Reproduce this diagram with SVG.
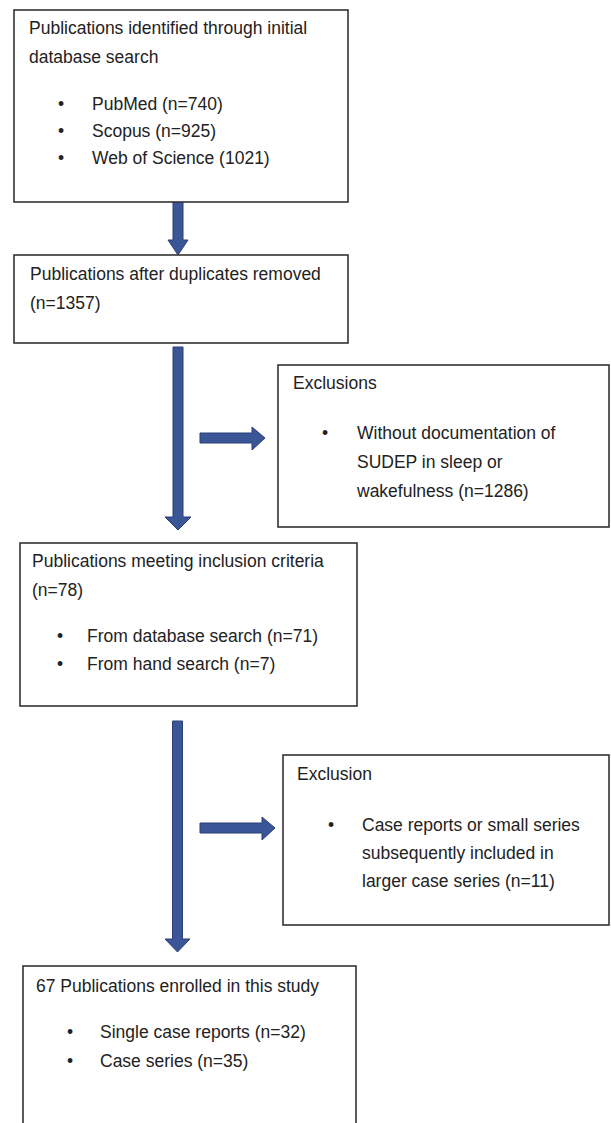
<svg xmlns="http://www.w3.org/2000/svg" width="611" height="1123" viewBox="0 0 611 1123">
<style>
.box{fill:#fff;stroke:#333;stroke-width:1.6}
.t{font-family:"Liberation Sans",Arial,sans-serif;font-size:17.5px;fill:#222}
.arr{fill:#3b5697;stroke:#2b3f78;stroke-width:1}
</style>
<rect width="611" height="1123" fill="#fff"/>
<g id="connectors">
<polygon class="arr" points="173,202 183,202 183,240 188,240 178,255 168,240 173,240"/>
<polygon class="arr" points="173,347 183,347 183,517 191,517 178,530 165,517 173,517"/>
<polygon class="arr" points="200,433 252,433 252,427 265,438 252,450 252,443 200,443"/>
<polygon class="arr" points="172.5,721 182.5,721 182.5,939 190,939 177.5,952 165,939 172.5,939"/>
<polygon class="arr" points="200,823 262,823 262,817 275,828 262,840 262,833 200,833"/>
</g>
<g id="n1">
<rect class="box" x="14" y="10" width="334" height="192"/>
<text class="t" x="29" y="34">Publications identified through initial</text>
<text class="t" x="29" y="63">database search</text>
<text class="t" x="58" y="110">•</text><text class="t" x="92" y="110">PubMed (n=740)</text>
<text class="t" x="58" y="137">•</text><text class="t" x="92" y="137">Scopus (n=925)</text>
<text class="t" x="58" y="164">•</text><text class="t" x="92" y="164">Web of Science (1021)</text>
</g>
<g id="n2">
<rect class="box" x="14" y="255" width="334" height="88"/>
<text class="t" x="30" y="280">Publications after duplicates removed</text>
<text class="t" x="30" y="309">(n=1357)</text>
</g>
<g id="n3">
<rect class="box" x="278" y="365" width="331" height="162"/>
<text class="t" x="293" y="389">Exclusions</text>
<text class="t" x="322" y="439">•</text><text class="t" x="357" y="439">Without documentation of</text>
<text class="t" x="357" y="468">SUDEP in sleep or</text>
<text class="t" x="357" y="497">wakefulness (n=1286)</text>
</g>
<g id="n4">
<rect class="box" x="20" y="543" width="337" height="163"/>
<text class="t" x="32" y="567">Publications meeting inclusion criteria</text>
<text class="t" x="32" y="596">(n=78)</text>
<text class="t" x="57" y="642">•</text><text class="t" x="87" y="642">From database search (n=71)</text>
<text class="t" x="57" y="670">•</text><text class="t" x="87" y="670">From hand search (n=7)</text>
</g>
<g id="n5">
<rect class="box" x="283" y="755" width="326" height="170"/>
<text class="t" x="297" y="780">Exclusion</text>
<text class="t" x="328" y="831">•</text><text class="t" x="362" y="831">Case reports or small series</text>
<text class="t" x="362" y="859">subsequently included in</text>
<text class="t" x="362" y="887">larger case series (n=11)</text>
</g>
<g id="n6">
<rect class="box" x="23" y="966" width="333" height="170"/>
<text class="t" x="36" y="992">67 Publications enrolled in this study</text>
<text class="t" x="67" y="1038">•</text><text class="t" x="100" y="1038">Single case reports (n=32)</text>
<text class="t" x="67" y="1067">•</text><text class="t" x="100" y="1067">Case series (n=35)</text>
</g>
</svg>
